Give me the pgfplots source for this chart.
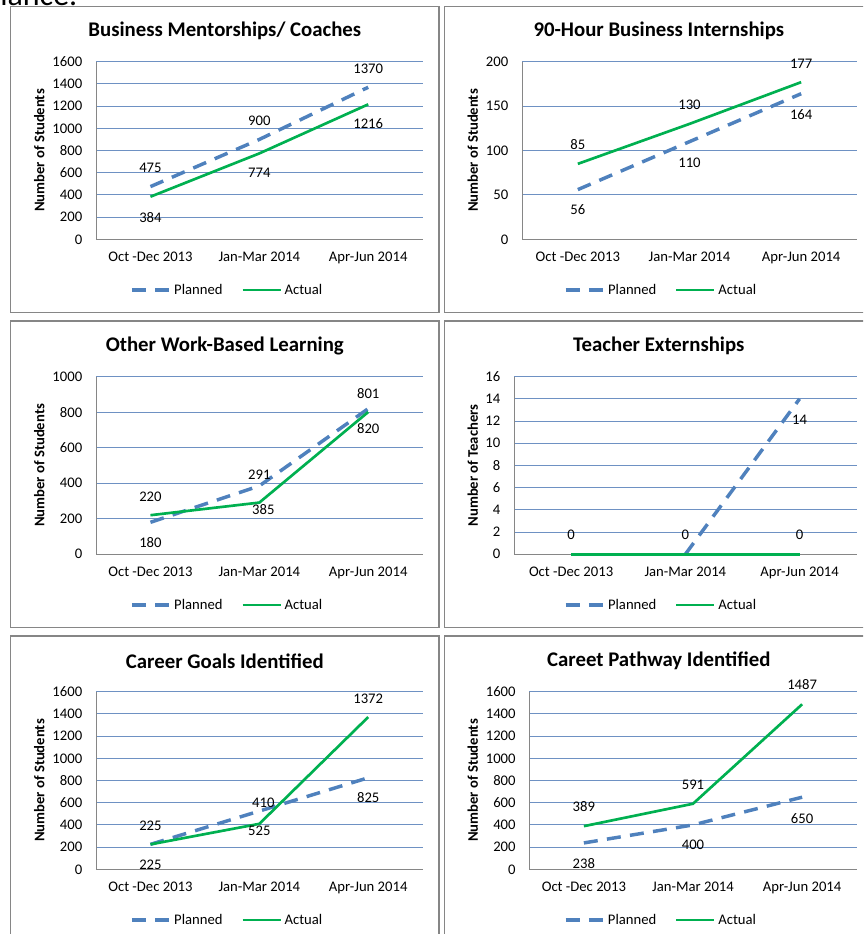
\documentclass[border=0pt]{standalone}
\usepackage{pgfplots}
\pgfplotsset{compat=1.18}
\usepackage{fontspec}
\setmainfont{Carlito}

\definecolor{planblue}{RGB}{79,129,189}
\definecolor{actgreen}{RGB}{0,176,80}
\definecolor{gridblue}{RGB}{110,145,195}
\definecolor{framegray}{RGB}{134,134,134}

\tikzset{lbl/.style={font=\fontsize{11}{13}\selectfont, inner sep=0pt}}

\pgfplotsset{
  panel/.style={
    scale only axis,
    height=133.2pt,
    xmin=-0.5, xmax=2.5, ymin=0,
    xtick={0,1,2},
    xticklabels={Oct -Dec 2013, Jan-Mar 2014, Apr-Jun 2014},
    axis x line*=bottom, axis y line*=left,
    axis line style={draw=framegray, line width=0.75pt, -},
    ymajorgrids,
    grid style={draw=gridblue, line width=0.75pt},
    major tick length=0pt,
    tick label style={font=\fontsize{11}{13}\selectfont},
    /pgf/number format/assume math mode=true,
    /pgf/number format/1000 sep={},
    xticklabel style={yshift=-6pt},
    yticklabel style={xshift=-6.8pt},
    clip=false,
    legend columns=-1,
    legend style={draw=none, fill=none, anchor=center,
      font=\fontsize{11}{13}\selectfont,
      /tikz/every even column/.append style={column sep=12pt}},
    legend image code/.code={\draw[##1] (0pt,0pt) -- (28.5pt,0pt);},
  },
  planned/.style={planblue, line width=2.6pt, dash pattern=on 10.5pt off 7pt},
  actual/.style={actgreen, line width=2pt},
}

\begin{document}
\begin{tikzpicture}
\useasboundingbox (0,0) rectangle (647.25pt,-700.5pt);
\clip (0,0) rectangle (647.25pt,-700.5pt);

% scrap of the page text above
\node[anchor=base west, inner sep=0pt, font=\fontsize{24}{26}\selectfont] at (0pt,-4.3pt) {iance.};

% panel frames
\foreach \yt/\yb in {-5/-234.5, -240.75/-470.75, -477/-706} {
  \draw[framegray, line width=1pt] (8pt,\yt pt) rectangle (329.25pt,\yb pt);
  \draw[framegray, line width=1pt] (333.5pt,\yt pt) rectangle (655pt,\yb pt);
}

% titles
\begin{scope}[every node/.style={font=\bfseries\fontsize{15.6}{18}\selectfont}]
\node at (168.6pt,-23.25pt) {Business Mentorships/ Coaches};
\node at (494.1pt,-23.25pt) {90-Hour Business Internships};
\node at (168.6pt,-259.5pt) {Other Work-Based Learning};
\node at (494.1pt,-259.5pt) {Teacher Externships};
\node at (168.6pt,-495.75pt) {Career Goals Identified};
\node at (494.1pt,-495.75pt) {Careet Pathway Identified};
\end{scope}

% y labels
\begin{scope}[every node/.style={font=\bfseries\fontsize{11}{13}\selectfont, rotate=90}]
\node at (29.5pt,-112.9pt) {Number of Students};
\node at (354.5pt,-112.9pt) {Number of Students};
\node at (29.5pt,-349.1pt) {Number of Students};
\node at (354.5pt,-349.1pt) {Number of Teachers};
\node at (29.5pt,-585.4pt) {Number of Students};
\node at (354.5pt,-585.4pt) {Number of Students};
\end{scope}

% Business Mentorships/ Coaches
\begin{axis}[panel, at={(72pt,-179.5pt)}, anchor=south west, width=245pt,
  ymax=1600, ytick={0,200,...,1600},
  legend style={at={(0.4025,-0.2855)}}]
\addplot[planned] coordinates {(0,475) (1,900) (2,1370)};
\addplot[actual] coordinates {(0,384) (1,774) (2,1216)};
\legend{Planned, Actual}
\node[lbl] at (axis cs:0,640) {475};
\node[lbl] at (axis cs:0,198) {384};
\node[lbl] at (axis cs:1,1068) {900};
\node[lbl] at (axis cs:1,595) {774};
\node[lbl] at (axis cs:2,1540) {1370};
\node[lbl] at (axis cs:2,1039) {1216};
\end{axis}

% 90-Hour Business Internships
\begin{axis}[panel, at={(391.5pt,-179.5pt)}, anchor=south west, width=251.25pt,
  ymax=200, ytick={0,50,...,200},
  legend style={at={(0.416,-0.2855)}}]
\addplot[planned] coordinates {(0,56) (1,110) (2,164)};
\addplot[actual] coordinates {(0,85) (1,130) (2,177)};
\legend{Planned, Actual}
\node[lbl] at (axis cs:0,106.2) {85};
\node[lbl] at (axis cs:0,33) {56};
\node[lbl] at (axis cs:1,151.2) {130};
\node[lbl] at (axis cs:1,86.7) {110};
\node[lbl] at (axis cs:2,198.2) {177};
\node[lbl] at (axis cs:2,140.8) {164};
\end{axis}

% Other Work-Based Learning
\begin{axis}[panel, at={(72pt,-415.7pt)}, anchor=south west, width=245pt,
  ymax=1000, ytick={0,200,...,1000},
  legend style={at={(0.4025,-0.2855)}}]
\addplot[planned] coordinates {(0,180) (1,385) (2,820)};
\addplot[actual] coordinates {(0,220) (1,291) (2,801)};
\legend{Planned, Actual}
\node[lbl] at (axis cs:0,324.7) {220};
\node[lbl] at (axis cs:0,65.7) {180};
\node[lbl] at (axis cs:1,446.7) {291};
\node[lbl] at (axis cs:1.037,253.4) {385};
\node[lbl] at (axis cs:2,906.6) {801};
\node[lbl] at (axis cs:2,705.8) {820};
\end{axis}

% Teacher Externships
\begin{axis}[panel, at={(385.5pt,-415.7pt)}, anchor=south west, width=257pt,
  ymax=16, ytick={0,2,...,16},
  legend style={at={(0.43,-0.2855)}}]
\addplot[planned] coordinates {(1,0) (2,14)};
\addplot[actual] coordinates {(0,0) (1,0) (2,0)};
\legend{Planned, Actual}
\node[lbl] at (axis cs:0,1.74) {0};
\node[lbl] at (axis cs:1,1.74) {0};
\node[lbl] at (axis cs:2,1.74) {0};
\node[lbl] at (axis cs:2,12.1) {14};
\end{axis}

% Career Goals Identified
\begin{axis}[panel, at={(72pt,-652pt)}, anchor=south west, width=245pt,
  ymax=1600, ytick={0,200,...,1600},
  legend style={at={(0.4025,-0.2855)}}]
\addplot[planned] coordinates {(0,225) (1,525) (2,825)};
\addplot[actual] coordinates {(0,225) (1,410) (2,1372)};
\legend{Planned, Actual}
\node[lbl] at (axis cs:0,393) {225};
\node[lbl] at (axis cs:0,39) {225};
\node[lbl] at (axis cs:1.037,603.6) {410};
\node[lbl] at (axis cs:1,345) {525};
\node[lbl] at (axis cs:2,1540.5) {1372};
\node[lbl] at (axis cs:2,648.6) {825};
\end{axis}

% Careet Pathway Identified
\begin{axis}[panel, at={(397pt,-652pt)}, anchor=south west, width=245.5pt,
  ymax=1600, ytick={0,200,...,1600},
  legend style={at={(0.403,-0.2855)}}]
\addplot[planned] coordinates {(0,238) (1,400) (2,650)};
\addplot[actual] coordinates {(0,389) (1,591) (2,1487)};
\legend{Planned, Actual}
\node[lbl] at (axis cs:0,564.6) {389};
\node[lbl] at (axis cs:0,54) {238};
\node[lbl] at (axis cs:1,759.8) {591};
\node[lbl] at (axis cs:1,219) {400};
\node[lbl] at (axis cs:2,1660.7) {1487};
\node[lbl] at (axis cs:2,459.5) {650};
\end{axis}
\end{tikzpicture}
\end{document}
